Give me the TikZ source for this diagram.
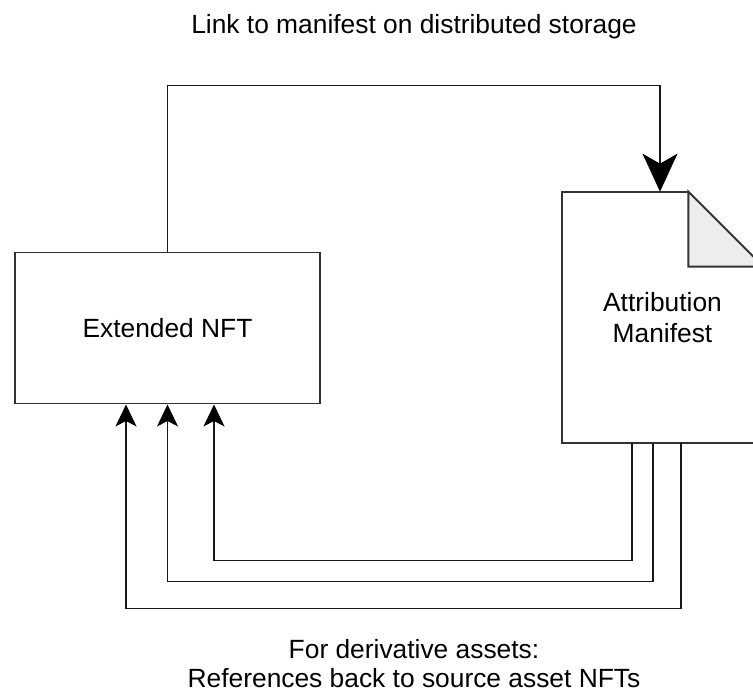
\documentclass[tikz,border=0pt]{standalone}
\usepackage{fontspec}
\setmainfont{Liberation Sans}
\usetikzlibrary{positioning, arrows.meta, calc}

\begin{document}
\begin{tikzpicture}[
    linecol/.style={black!90},
    nftbox/.style={rectangle, draw=black!80, line width=1.1pt, minimum width=6.1cm, minimum height=3.02cm, font=\fontsize{15}{16.5}\selectfont},
    docbox/.style={rectangle, draw=none, minimum width=4.02cm, minimum height=5.02cm, align=center, font=\fontsize{15}{17.5}\selectfont},
    docline/.style={draw=black!80, line width=1.1pt, line join=miter},
    foldfill/.style={fill=black!7},
    biglink/.style={-{Stealth[length=0.76cm, width=0.7cm, inset=0.2cm, fill=black, color=black]}, line width=0.9pt, linecol},
    backlink/.style={-{Stealth[length=0.44cm, width=0.42cm, inset=0.11cm, fill=black, color=black]}, line width=0.9pt, linecol},
    caption/.style={align=center, font=\fontsize{15}{16.5}\selectfont}
]

% Page size
\useasboundingbox (0,0) rectangle (15.06,-13.9);

% Boxes
\node[nftbox] (nft) at (3.35,-6.56) {Extended NFT};
\node[docbox] (manifest) at (13.25,-6.35) {Attribution\\Manifest};

% Document outline with folded corner
\filldraw[docline, foldfill] ([xshift=-1.5cm]manifest.north east) -- ([yshift=-1.5cm]manifest.north east) -- ([shift={(-1.5cm,-1.5cm)}]manifest.north east) -- cycle;
\draw[docline] ([xshift=-1.5cm]manifest.north east) -- (manifest.north west) -- (manifest.south west) -- (manifest.south east) -- ([yshift=-1.5cm]manifest.north east);

% Link to the manifest
\draw[biglink] (nft.north) -- ++(0,3.32) -| ([xshift=-0.05cm]manifest.north);

% References back to the sources
\draw[backlink] ([xshift=-0.61cm]manifest.south) -- ++(0,-2.34) -| ([xshift=0.93cm]nft.south);
\draw[backlink] ([xshift=-0.19cm]manifest.south) -- ++(0,-2.76) -| (nft.south);
\draw[backlink] ([xshift=0.37cm]manifest.south) -- ++(0,-3.3) -| ([xshift=-0.83cm]nft.south);

% Labels
\node[caption] (linklabel) at (8.28,-0.54) {Link to manifest on distributed storage};
\node[caption] (reflabel) at (8.28,-13.28) {For derivative assets:\\References back to source asset NFTs};

\end{tikzpicture}
\end{document}
